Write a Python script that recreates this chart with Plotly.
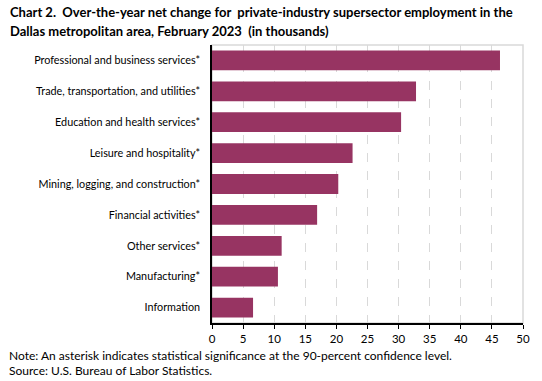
import plotly.graph_objects as go

categories = [
    "Professional and business services*",
    "Trade, transportation, and utilities*",
    "Education and health services*",
    "Leisure and hospitality*",
    "Mining, logging, and construction*",
    "Financial activities*",
    "Other services*",
    "Manufacturing*",
    "Information",
]
values = [46.3, 32.8, 30.4, 22.6, 20.3, 16.9, 11.2, 10.6, 6.6]
x_ticks = [0, 5, 10, 15, 20, 25, 30, 35, 40, 45, 50]

FONT = "Lato"
BAR = "#973462"

W, H = 542, 381
L, R, T, B = 212, 15, 45, 58
PW, PH = W - L - R, H - T - B


def px(xpix):
    return (xpix - L) / PW


def py(ypix):
    return (H - B - ypix) / PH


fig = go.Figure(go.Bar(
    y=categories, x=values, orientation="h",
    marker=dict(color=BAR, line=dict(width=0)),
))

fig.update_layout(
    width=W, height=H,
    margin=dict(l=L, r=R, t=T, b=B),
    plot_bgcolor="white", paper_bgcolor="white",
    bargap=0.36,
    showlegend=False,
    font=dict(family=FONT, size=11, color="#000000"),
    xaxis=dict(
        range=[0, 50], tickvals=x_ticks, ticktext=[str(v) for v in x_ticks],
        showgrid=True, gridcolor="#d9d9d9", griddash="dash", gridwidth=1,
        showline=True, linecolor="#000000", linewidth=1.5,
        ticks="outside", ticklen=4, tickcolor="#000000", tickwidth=1,
        zeroline=False, tickfont=dict(size=11.5),
    ),
    yaxis=dict(
        autorange="reversed",
        showline=True, linecolor="#000000", linewidth=1.5,
        showgrid=False, ticks="", ticklabelstandoff=8,
        tickfont=dict(size=10.8),
    ),
    shapes=[dict(type="rect", xref="paper", yref="paper", x0=0, x1=1, y0=0, y1=1,
                 line=dict(color="#d9d9d9", width=1.5), layer="below")],
    annotations=[
        dict(text="<b>Chart 2.  Over-the-year net change for  private-industry supersector employment in the</b>",
             xref="paper", yref="paper", x=px(5), y=py(12), xanchor="left", yanchor="middle",
             showarrow=False, font=dict(size=13)),
        dict(text="<b>Dallas metropolitan area, February 2023  (in thousands)</b>",
             xref="paper", yref="paper", x=px(5), y=py(31), xanchor="left", yanchor="middle",
             showarrow=False, font=dict(size=13)),
        dict(text="Note: An asterisk indicates statistical significance at the 90-percent confidence level.",
             xref="paper", yref="paper", x=px(4), y=py(355), xanchor="left", yanchor="middle",
             showarrow=False, font=dict(size=12)),
        dict(text="Source: U.S. Bureau of Labor Statistics.",
             xref="paper", yref="paper", x=px(4), y=py(370), xanchor="left", yanchor="middle",
             showarrow=False, font=dict(size=12)),
    ],
)

fig.write_html("out.html", config={"displayModeBar": False},
               post_script="document.body.style.margin='0';")
